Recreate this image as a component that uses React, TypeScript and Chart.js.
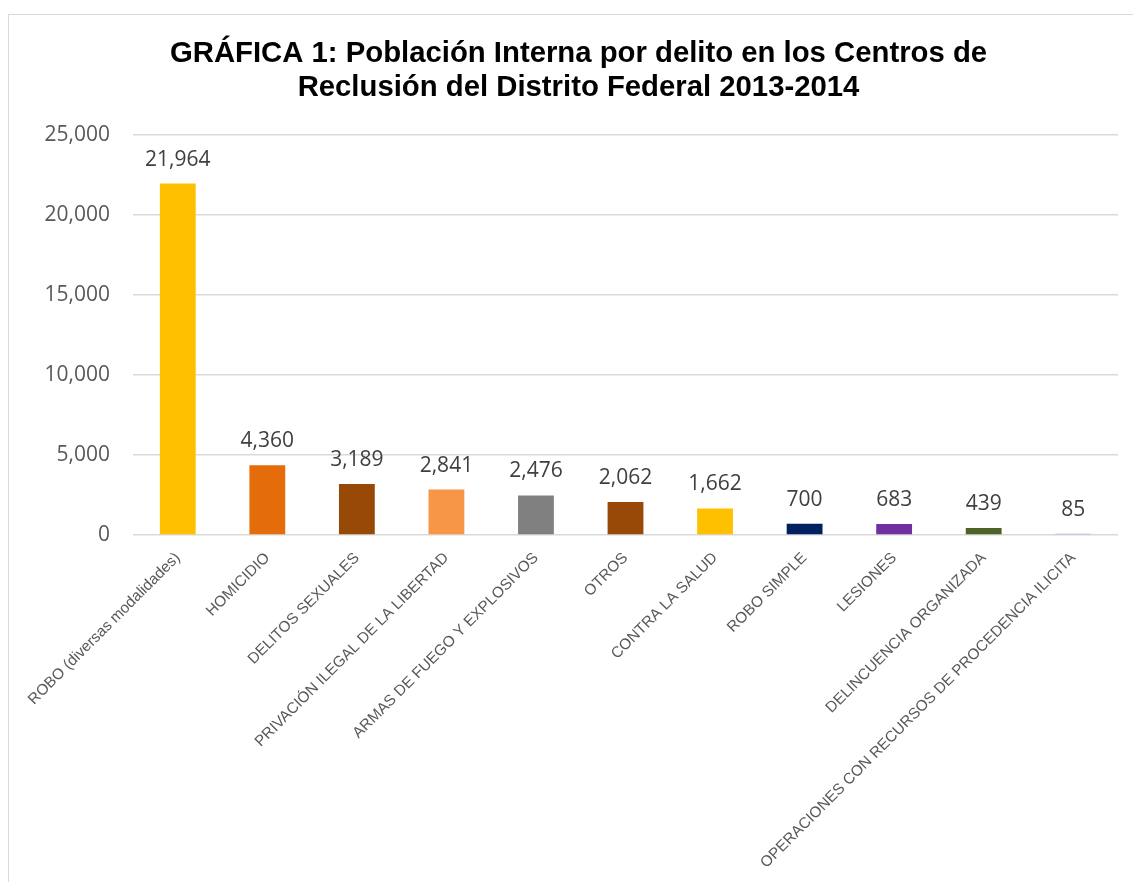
import React, { useEffect, useRef } from "react";
import { Chart, registerables } from "chart.js";

Chart.register(...registerables);

const titleLines = [
  "GRÁFICA 1: Población Interna por delito en los Centros de",
  "Reclusión del Distrito Federal 2013-2014",
];

const categories = [
  "ROBO (diversas modalidades)",
  "HOMICIDIO",
  "DELITOS SEXUALES",
  "PRIVACIÓN ILEGAL DE LA LIBERTAD",
  "ARMAS DE FUEGO Y EXPLOSIVOS",
  "OTROS",
  "CONTRA LA SALUD",
  "ROBO SIMPLE",
  "LESIONES",
  "DELINCUENCIA ORGANIZADA",
  "OPERACIONES CON RECURSOS DE PROCEDENCIA ILICITA",
];

const values = [21964, 4360, 3189, 2841, 2476, 2062, 1662, 700, 683, 439, 85];

const barColors = [
  "#FFC000",
  "#E46C0A",
  "#984807",
  "#F79646",
  "#808080",
  "#984807",
  "#FFC000",
  "#002060",
  "#7030A0",
  "#4F6228",
  "#8EAADB",
];

const yMin = 0;
const yMax = 25000;
const yStep = 5000;

const fmt = (v: number) => v.toLocaleString("en-US");

const valueLabels = {
  id: "valueLabels",
  afterDatasetsDraw(chart: any) {
    const ctx = chart.ctx;
    const meta = chart.getDatasetMeta(0);
    ctx.save();
    ctx.font = "21px 'Open Sans'";
    ctx.fillStyle = "#404040";
    ctx.textAlign = "center";
    ctx.textBaseline = "alphabetic";
    meta.data.forEach((el: any, i: number) => {
      ctx.fillText(fmt(values[i]), el.x, el.y - 18);
    });
    ctx.restore();
  },
};

export default function App() {
  const ref = useRef<HTMLCanvasElement | null>(null);

  useEffect(() => {
    if (!ref.current) return;
    const chart = new Chart(ref.current, {
      type: "bar",
      data: {
        labels: categories,
        datasets: [
          {
            data: values,
            backgroundColor: barColors,
            borderWidth: 0,
            barPercentage: 0.4,
            categoryPercentage: 1.0,
          },
        ],
      },
      options: {
        animation: false,
        responsive: true,
        maintainAspectRatio: false,
        layout: { padding: { left: 30, right: 30, top: 0, bottom: 0 } },
        plugins: {
          legend: { display: false },
          tooltip: { enabled: false },
          title: {
            display: true,
            text: titleLines,
            color: "#000000",
            font: { family: "'Liberation Sans', Arial, sans-serif", size: 29.3, weight: "bold", lineHeight: "34px" },
            padding: { top: 22, bottom: 30 },
          },
        },
        scales: {
          x: {
            grid: { display: false },
            border: { display: false },
            ticks: {
              autoSkip: false,
              minRotation: 45,
              maxRotation: 45,
              color: "#595959",
              padding: 6,
              font: { family: "'Liberation Sans', Arial, sans-serif", size: 15.3 },
            },
            afterFit: (scale: any) => {
              scale.height = 347;
            },
          },
          y: {
            min: yMin,
            max: yMax,
            border: { display: false },
            grid: { color: "#d9d9d9", lineWidth: 1.5, drawTicks: false },
            ticks: {
              stepSize: yStep,
              color: "#595959",
              padding: 23,
              font: { family: "'Open Sans', sans-serif", size: 21 },
              callback: (v: any) => fmt(Number(v)),
            },
            afterFit: (scale: any) => {
              scale.width = 94;
            },
          },
        },
      },
      plugins: [valueLabels],
    });
    return () => chart.destroy();
  }, []);

  return (
    <div
      style={{
        position: "fixed",
        left: 8,
        top: 14,
        width: 1140,
        height: 868,
        borderLeft: "1px solid #d9d9d9",
        borderTop: "1px solid #d9d9d9",
        boxSizing: "border-box",
        background: "#ffffff",
      }}
    >
      <div style={{ position: "relative", width: 1139, height: 867 }}>
        <canvas ref={ref} />
      </div>
    </div>
  );
}
